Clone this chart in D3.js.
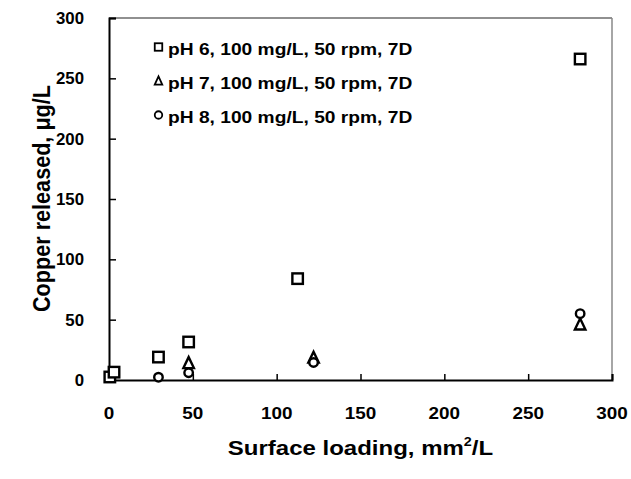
<!DOCTYPE html>
<html><head><meta charset="utf-8">
<script src="https://cdn.jsdelivr.net/npm/d3@7"></script>
<style>body{margin:0;background:#fff}svg{display:block}text{font-family:Arial,"Liberation Sans",sans-serif;font-weight:bold;fill:#000}</style>
</head><body><svg id="c" width="631" height="479"></svg>
<script>
const xTicks = [0, 50, 100, 150, 200, 250, 300];
const yTicks = [0, 50, 100, 150, 200, 250, 300];
const seriesNames = ["pH 6, 100 mg/L, 50 rpm, 7D", "pH 7, 100 mg/L, 50 rpm, 7D", "pH 8, 100 mg/L, 50 rpm, 7D"];
const seriesShapes = ["square", "triangle", "circle"];
const ph6X = [0.5, 3, 29.5, 47.5, 112.5, 281];
const ph6Y = [2.5, 6.5, 19, 31.5, 84, 266];
const ph7X = [47.5, 122, 281];
const ph7Y = [14, 18.5, 46];
const ph8X = [29.5, 47.5, 122, 281];
const ph8Y = [2.3, 6, 14.5, 55];

const SX = 1.18; // horizontal stretch of the reference's text
const svg = d3.select("#c");
const m = {l: 109, r: 612, t: 18, b: 380};
const x = d3.scaleLinear().domain([0, 300]).range([m.l, m.r]);
const y = d3.scaleLinear().domain([0, 300]).range([m.b, m.t]);

// frame top & right
svg.append("line").attr("x1", m.l).attr("x2", m.r).attr("y1", m.t).attr("y2", m.t).attr("stroke", "#222").attr("stroke-width", 1.2);
svg.append("line").attr("x1", m.r).attr("x2", m.r).attr("y1", m.t).attr("y2", m.b).attr("stroke", "#888").attr("stroke-width", 1.5);

const xAxis = svg.append("g").attr("transform", `translate(0,${m.b})`)
  .call(d3.axisBottom(x).tickValues(xTicks).tickSize(-6).tickFormat(""));
const yAxis = svg.append("g").attr("transform", `translate(${m.l},0)`)
  .call(d3.axisLeft(y).tickValues(yTicks).tickSize(-7).tickFormat(""));
[xAxis, yAxis].forEach(g => {
  g.select(".domain").attr("stroke", "#000").attr("stroke-width", 2);
  g.selectAll(".tick line").attr("stroke", "#000").attr("stroke-width", 1.5);
});
xAxis.select(".tick:first-of-type line").remove();
yAxis.select(".tick:first-of-type line").remove();

// tick labels
const fmt = d3.format("d");
const tl = svg.append("g");
xTicks.forEach(v => {
  tl.append("g").attr("transform", `translate(${x(v)},419) scale(${SX},1)`)
    .append("text").attr("text-anchor", "middle").attr("font-size", 16).text(fmt(v));
});
yTicks.forEach(v => {
  tl.append("g").attr("transform", `translate(84,${y(v) + 6}) scale(1.05,1)`)
    .append("text").attr("text-anchor", "end").attr("font-size", 16).text(fmt(v));
});

function drawShape(g, shape, cx, cy, s, sw) {
  if (shape === "square") {
    g.append("rect").attr("x", cx - s/2).attr("y", cy - s/2).attr("width", s).attr("height", s)
      .attr("fill", "#fff").attr("stroke", "#000").attr("stroke-width", sw);
  } else if (shape === "circle") {
    g.append("circle").attr("cx", cx).attr("cy", cy).attr("r", s/2)
      .attr("fill", "#fff").attr("stroke", "#000").attr("stroke-width", sw);
  } else {
    const h = s * 0.95;
    g.append("path").attr("d", `M${cx},${cy - h/2 - 1}L${cx + s/2},${cy + h/2}L${cx - s/2},${cy + h/2}Z`)
      .attr("fill", "#fff").attr("stroke", "#000").attr("stroke-width", sw).attr("stroke-linejoin", "miter");
  }
}

const pts = svg.append("g");
const series = [[ph6X, ph6Y], [ph7X, ph7Y], [ph8X, ph8Y]];
series.forEach((sr, i) => {
  sr[0].forEach((xv, j) => drawShape(pts, seriesShapes[i], x(xv), y(sr[1][j]), i === 2 ? 8.5 : 10.5, 2.4));
});

// legend
const lg = svg.append("g");
seriesNames.forEach((n, i) => {
  const cy = 47 + i * 34;
  drawShape(lg, seriesShapes[i], 158.5, cy, 7.5, 1.8);
  lg.append("g").attr("transform", `translate(168,${cy + 8}) scale(1.13,1)`)
    .append("text").attr("font-size", 17).text(n);
});

// axis titles
svg.append("g").attr("transform", `translate(${(m.l + m.r) / 2},455) scale(1.2,1)`)
  .append("text").attr("text-anchor", "middle").attr("font-size", 20)
  .html('Surface loading, mm<tspan dy="-9" font-size="12">2</tspan><tspan dy="9">/L</tspan>');
svg.append("g").attr("transform", `translate(50,198.5) scale(1.19,1) rotate(-90)`)
  .append("text").attr("text-anchor", "middle").attr("font-size", 20)
  .attr("textLength", 227).attr("lengthAdjust", "spacingAndGlyphs")
  .text("Copper released, μg/L");
</script></body></html>
